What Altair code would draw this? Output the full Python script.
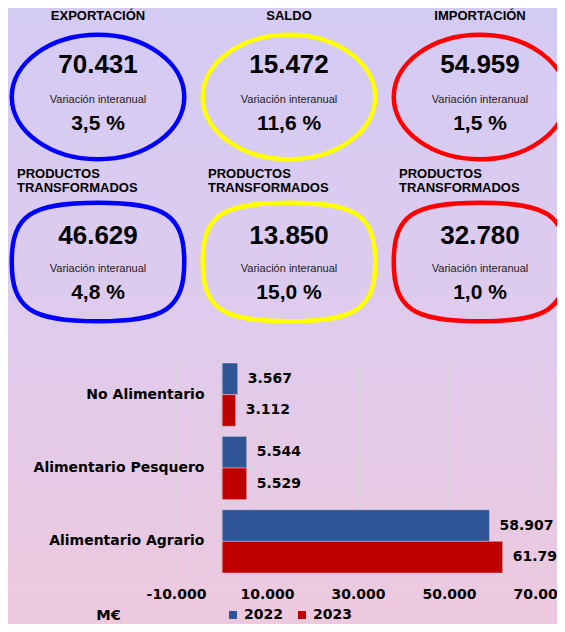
import altair as alt
import pandas as pd

# ---------------- data ----------------
groups = ["EXPORTACIÓN", "SALDO", "IMPORTACIÓN"]
group_colors = ["#0000ff", "#ffff00", "#ff0000"]
levels = ["total", "transformados"]
total_values = [70431, 15472, 54959]
total_var = [3.5, 11.6, 1.5]
transf_values = [46629, 13850, 32780]
transf_var = [4.8, 15.0, 1.0]
transf_title = ["PRODUCTOS", "TRANSFORMADOS"]
var_label = "Variación interanual"

categories = ["No Alimentario", "Alimentario Pesquero", "Alimentario Agrario"]
years = ["2022", "2023"]
values_2022 = [3567, 5544, 58907]
values_2023 = [3112, 5529, 61790]
year_colors = ["#2f5597", "#c00000"]
x_ticks = [-10000, 10000, 30000, 50000, 70000]
x_domain = [-10000, 70000]
unit_label = "M€"


def es_num(v):
    return f"{v:,}".replace(",", ".")


def es_pct(v):
    return f"{v:.1f}".replace(".", ",") + " %"


W, H = 549, 616
FONT_T = "Liberation Sans"
FONT_B = "DejaVu Sans"

tiles = pd.DataFrame({
    "grupo": groups * 2,
    "nivel": [levels[0]] * 3 + [levels[1]] * 3,
    "valor": [es_num(v) for v in total_values + transf_values],
    "variacion": [es_pct(v) for v in total_var + transf_var],
})

bars_df = pd.DataFrame({
    "categoria": categories * 2,
    "anio": [years[0]] * 3 + [years[1]] * 3,
    "valor": values_2022 + values_2023,
})
bars_df["etiqueta"] = bars_df["valor"].map(es_num)
ticks_df = pd.DataFrame({"valor": x_ticks})


def oval_path(r, k):
    kr = k * r
    return (f"M -1 0 C -1 {-kr:.4f} {-k:.4f} {-r:.4f} 0 {-r:.4f} "
            f"C {k:.4f} {-r:.4f} 1 {-kr:.4f} 1 0 "
            f"C 1 {kr:.4f} {k:.4f} {r:.4f} 0 {r:.4f} "
            f"C {-k:.4f} {r:.4f} -1 {kr:.4f} -1 0 Z")


OVAL_SIZE = 172.5 ** 2
path_total = oval_path(0.722, 0.5523)
path_transf = oval_path(0.687, 0.784)

# ---------------- background ----------------
bg = alt.Chart(pd.DataFrame({"bg": [0]})).mark_rect(
    fill=alt.Gradient(
        gradient="linear",
        stops=[alt.GradientStop(color="#d4cbf3", offset=0),
               alt.GradientStop(color="#ddcbee", offset=0.45),
               alt.GradientStop(color="#edc9de", offset=1)],
        x1=0, x2=0, y1=0, y2=1,
    ),
    strokeWidth=0,
).encode(x=alt.value(0), x2=alt.value(W), y=alt.value(0), y2=alt.value(H))

# ---------------- tiles ----------------
tx = alt.X("grupo:N", scale=alt.Scale(domain=groups, range=[90, 472], padding=0), axis=None)
ty = alt.Y("nivel:N", scale=alt.Scale(domain=levels, range=[89, 254], padding=0), axis=None)
stroke_enc = alt.Stroke("grupo:N", scale=alt.Scale(domain=groups, range=group_colors), legend=None)


def tile_row(level, path, dy_num, dy_var, dy_pct):
    b = alt.Chart(tiles).transform_filter(alt.datum.nivel == level).encode(x=tx, y=ty)
    oval = b.mark_point(shape=path, size=OVAL_SIZE, filled=False, strokeWidth=4.5,
                        opacity=1).encode(stroke=stroke_enc)
    num = b.mark_text(font=FONT_T, fontSize=26, fontWeight="bold", color="#000000",
                      baseline="middle", dy=dy_num).encode(text="valor:N")
    var = b.mark_text(font=FONT_T, fontSize=11, color="#222222", baseline="middle",
                      dy=dy_var, text=var_label)
    pct = b.mark_text(font=FONT_T, fontSize=21, fontWeight="bold", color="#000000",
                      baseline="middle", dy=dy_pct).encode(text="variacion:N")
    return b, [oval, num, var, pct]


b1, row1 = tile_row(levels[0], path_total, -32, 3, 27)
title1 = b1.mark_text(font=FONT_T, fontSize=13, fontWeight="bold", color="#000000",
                      baseline="middle", dy=-81).encode(text="grupo:N")
b2, row2 = tile_row(levels[1], path_transf, -26, 7, 31)
title2a = b2.mark_text(font=FONT_T, fontSize=13, fontWeight="bold", color="#000000",
                       baseline="middle", align="left", dx=-81, dy=-88, text=transf_title[0])
title2b = b2.mark_text(font=FONT_T, fontSize=13, fontWeight="bold", color="#000000",
                       baseline="middle", align="left", dx=-81, dy=-74, text=transf_title[1])

tiles_layer = alt.layer(*row1, title1, *row2, title2a, title2b)

# ---------------- bars ----------------
x_scale = alt.Scale(domain=x_domain, range=[168, 532], nice=False, zero=False)
y_scale = alt.Scale(domain=categories, range=[350, 570], paddingInner=0.137, paddingOuter=0.068)

x_axis = alt.Axis(
    orient="bottom", offset=-46, values=x_ticks, grid=False, domain=False, ticks=False,
    labelExpr="(datum.value < 0 ? '-' : '') + replace(format(abs(datum.value), ','), ',', '.')",
    labelFont=FONT_B, labelFontSize=14, labelFontWeight="bold", labelColor="#000000",
    labelPadding=9, labelFlush=False, labelOverlap=False, labelBound=False,
    title=unit_label, titleX=100, titleY=37, titleAlign="center", titleBaseline="middle",
    titleAngle=0, titleFont=FONT_B, titleFontSize=14.5, titleFontWeight="bold",
    titleColor="#000000", zindex=1,
)
y_axis = alt.Axis(
    orient="left", offset=-213.5, domain=True, domainColor="#d5d5d5", domainWidth=1,
    ticks=False, grid=False, labelFont=FONT_B, labelFontSize=14, labelFontWeight="bold",
    labelColor="#000000", labelPadding=17.5, labelLimit=400, title=None, zindex=1,
)

grid = alt.Chart(ticks_df).mark_rule(color="#d5d5d5", strokeWidth=1).encode(
    x=alt.X("valor:Q", scale=x_scale, axis=x_axis),
    y=alt.value(350), y2=alt.value(570),
)

bars = alt.Chart(bars_df).mark_bar(stroke="#ffffff", strokeOpacity=0.35, strokeWidth=1).encode(
    x=alt.X("valor:Q", scale=x_scale, axis=x_axis, stack=None),
    y=alt.Y("categoria:N", scale=y_scale, axis=y_axis),
    yOffset=alt.YOffset("anio:N", scale=alt.Scale(domain=years, paddingInner=0, paddingOuter=0)),
    color=alt.Color("anio:N", scale=alt.Scale(domain=years, range=year_colors),
                    legend=alt.Legend(orient="none", legendX=218, legendY=600,
                                      direction="horizontal", title=None, symbolType="square",
                                      symbolSize=64, symbolStrokeWidth=0, labelFont=FONT_B,
                                      labelFontSize=14, labelFontWeight="bold",
                                      labelColor="#000000", labelOffset=4, columnPadding=12,
                                      zindex=1)),
)

labels = alt.Chart(bars_df).mark_text(align="left", baseline="middle", dx=10, font=FONT_B,
                                      fontSize=14, fontWeight="bold", color="#000000").encode(
    x=alt.X("valor:Q", scale=x_scale, axis=x_axis),
    y=alt.Y("categoria:N", scale=y_scale, axis=y_axis),
    yOffset=alt.YOffset("anio:N", scale=alt.Scale(domain=years, paddingInner=0, paddingOuter=0)),
    text="etiqueta:N",
)

bars_layer = alt.layer(grid, bars, labels)

chart = alt.layer(bg, bars_layer, tiles_layer).resolve_scale(
    x="independent", y="independent"
).properties(
    width=W, height=H, padding=0,
    autosize=alt.AutoSizeParams(type="none"),
).configure(background="#e6caea").configure_view(stroke=None)

chart.save("out.html", embed_options={"renderer": "svg", "actions": False})
